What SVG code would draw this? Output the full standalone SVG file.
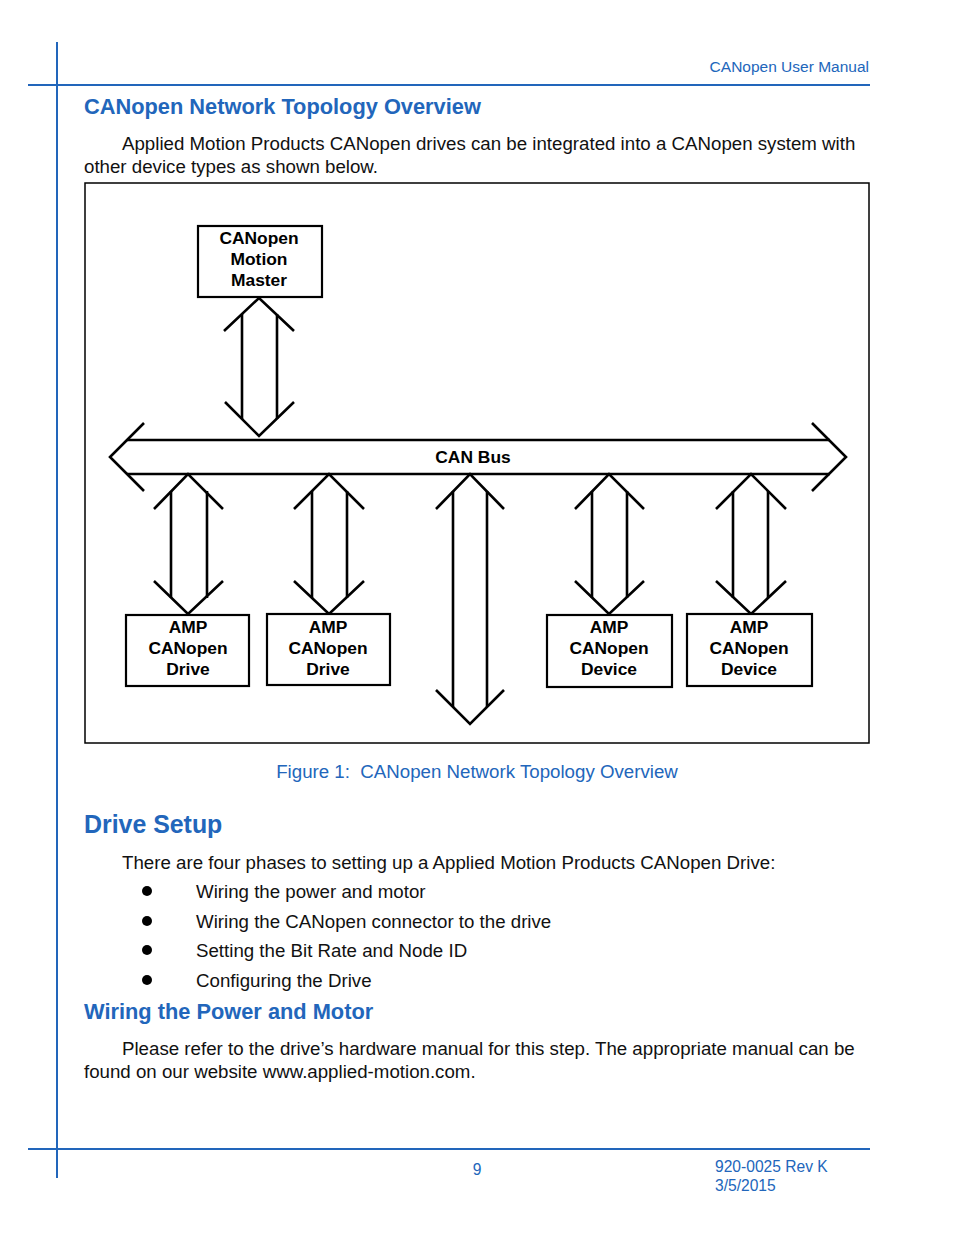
<svg xmlns="http://www.w3.org/2000/svg" width="954" height="1235" viewBox="0 0 954 1235">
<style>
.blue{fill:#2266BB;font-family:"Liberation Sans",Arial,sans-serif}
.body{fill:#111;font-family:"Liberation Sans",Arial,sans-serif;font-size:18.7px}
.lbl{fill:#000;font-family:"Liberation Sans",Arial,sans-serif;font-size:17.4px;font-weight:bold;text-anchor:middle}
.box{fill:#fff;stroke:#000;stroke-width:2.2}
.ln{fill:none;stroke:#000;stroke-width:2.6;stroke-linejoin:miter;stroke-linecap:butt}
.rule{stroke:#2266BB;stroke-width:2;fill:none}
</style>
<rect width="954" height="1235" fill="#fff"/>
<g id="page-frame">
<line class="rule" x1="57" y1="42" x2="57" y2="1178"/>
<line class="rule" x1="28" y1="85" x2="870" y2="85"/>
<line class="rule" x1="28" y1="1149" x2="870" y2="1149" stroke-width="1.3"/>
</g>
<text class="blue" x="869" y="72" font-size="15.5" text-anchor="end">CANopen User Manual</text>
<text class="blue" x="84" y="114" font-size="21.8" font-weight="bold">CANopen Network Topology Overview</text>
<text class="body" x="122" y="150">Applied Motion Products CANopen drives can be integrated into a CANopen system with</text>
<text class="body" x="84" y="173">other device types as shown below.</text>

<rect id="figure-frame" x="85" y="183" width="784" height="560" fill="none" stroke="#000" stroke-width="1.5"/>

<g id="connectors">
<!-- CAN bus -->
<path class="ln" d="M144,423 L110,457 L144,491"/>
<path class="ln" d="M812,423 L846,457 L812,491"/>
<line class="ln" x1="127" y1="440" x2="830" y2="440"/>
<line class="ln" x1="127" y1="474" x2="830" y2="474"/>
<!-- master arrow -->
<path class="ln" d="M224,331 L259,298 L294,331"/>
<path class="ln" d="M225,402 L259,436 L294,402"/>
<line class="ln" x1="242" y1="314" x2="242" y2="419"/>
<line class="ln" x1="277" y1="314" x2="277" y2="419"/>
<!-- drive arrow 1 -->
<path class="ln" d="M154,509 L188,474 L223,509"/>
<path class="ln" d="M154,581 L188,614 L223,581"/>
<line class="ln" x1="171" y1="491" x2="171" y2="598"/>
<line class="ln" x1="207" y1="491" x2="207" y2="598"/>
<!-- drive arrow 2 -->
<path class="ln" d="M294,509 L329,474 L364,509"/>
<path class="ln" d="M294,581 L329,614 L364,581"/>
<line class="ln" x1="312" y1="491" x2="312" y2="598"/>
<line class="ln" x1="347" y1="491" x2="347" y2="598"/>
<!-- long arrow -->
<path class="ln" d="M436,509 L470,474 L504,509"/>
<path class="ln" d="M436,690 L470,724 L504,690"/>
<line class="ln" x1="453" y1="491" x2="453" y2="707"/>
<line class="ln" x1="487" y1="491" x2="487" y2="707"/>
<!-- device arrow 1 -->
<path class="ln" d="M575,509 L609,474 L644,509"/>
<path class="ln" d="M575,581 L609,614 L644,581"/>
<line class="ln" x1="592" y1="491" x2="592" y2="598"/>
<line class="ln" x1="627" y1="491" x2="627" y2="598"/>
<!-- device arrow 2 -->
<path class="ln" d="M716,509 L751,474 L786,509"/>
<path class="ln" d="M716,581 L751,614 L786,581"/>
<line class="ln" x1="733" y1="491" x2="733" y2="598"/>
<line class="ln" x1="768" y1="491" x2="768" y2="598"/>
</g>
<text class="lbl" x="473" y="463">CAN Bus</text>

<g id="master">
<rect class="box" x="198" y="226" width="124" height="71"/>
<text class="lbl" x="259" y="244">CANopen</text>
<text class="lbl" x="259" y="265">Motion</text>
<text class="lbl" x="259" y="286">Master</text>
</g>
<g id="drive1">
<rect class="box" x="126" y="615" width="123" height="71"/>
<text class="lbl" x="188" y="633">AMP</text>
<text class="lbl" x="188" y="654">CANopen</text>
<text class="lbl" x="188" y="675">Drive</text>
</g>
<g id="drive2">
<rect class="box" x="267" y="614" width="123" height="71"/>
<text class="lbl" x="328" y="633">AMP</text>
<text class="lbl" x="328" y="654">CANopen</text>
<text class="lbl" x="328" y="675">Drive</text>
</g>
<g id="device1">
<rect class="box" x="547" y="615" width="125" height="72"/>
<text class="lbl" x="609" y="633">AMP</text>
<text class="lbl" x="609" y="654">CANopen</text>
<text class="lbl" x="609" y="675">Device</text>
</g>
<g id="device2">
<rect class="box" x="687" y="614" width="125" height="72"/>
<text class="lbl" x="749" y="633">AMP</text>
<text class="lbl" x="749" y="654">CANopen</text>
<text class="lbl" x="749" y="675">Device</text>
</g>

<text class="blue" x="477" y="778" font-size="18.7" text-anchor="middle" xml:space="preserve">Figure 1:  CANopen Network Topology Overview</text>
<text class="blue" x="84" y="833" font-size="24.9" font-weight="bold">Drive Setup</text>
<text class="body" x="122" y="869">There are four phases to setting up a Applied Motion Products CANopen Drive:</text>
<g fill="#000">
<circle cx="147" cy="891" r="5"/>
<circle cx="147" cy="921" r="5"/>
<circle cx="147" cy="950" r="5"/>
<circle cx="147" cy="980" r="5"/>
</g>
<text class="body" x="196" y="898">Wiring the power and motor</text>
<text class="body" x="196" y="928">Wiring the CANopen connector to the drive</text>
<text class="body" x="196" y="957">Setting the Bit Rate and Node ID</text>
<text class="body" x="196" y="987">Configuring the Drive</text>
<text class="blue" x="84" y="1019" font-size="21.8" font-weight="bold">Wiring the Power and Motor</text>
<text class="body" x="122" y="1055">Please refer to the drive’s hardware manual for this step. The appropriate manual can be</text>
<text class="body" x="84" y="1078">found on our website www.applied-motion.com.</text>

<text class="blue" x="477" y="1175" font-size="15.6" text-anchor="middle">9</text>
<text class="blue" x="715" y="1172" font-size="15.6">920-0025 Rev K</text>
<text class="blue" x="715" y="1191" font-size="15.6">3/5/2015</text>
</svg>
